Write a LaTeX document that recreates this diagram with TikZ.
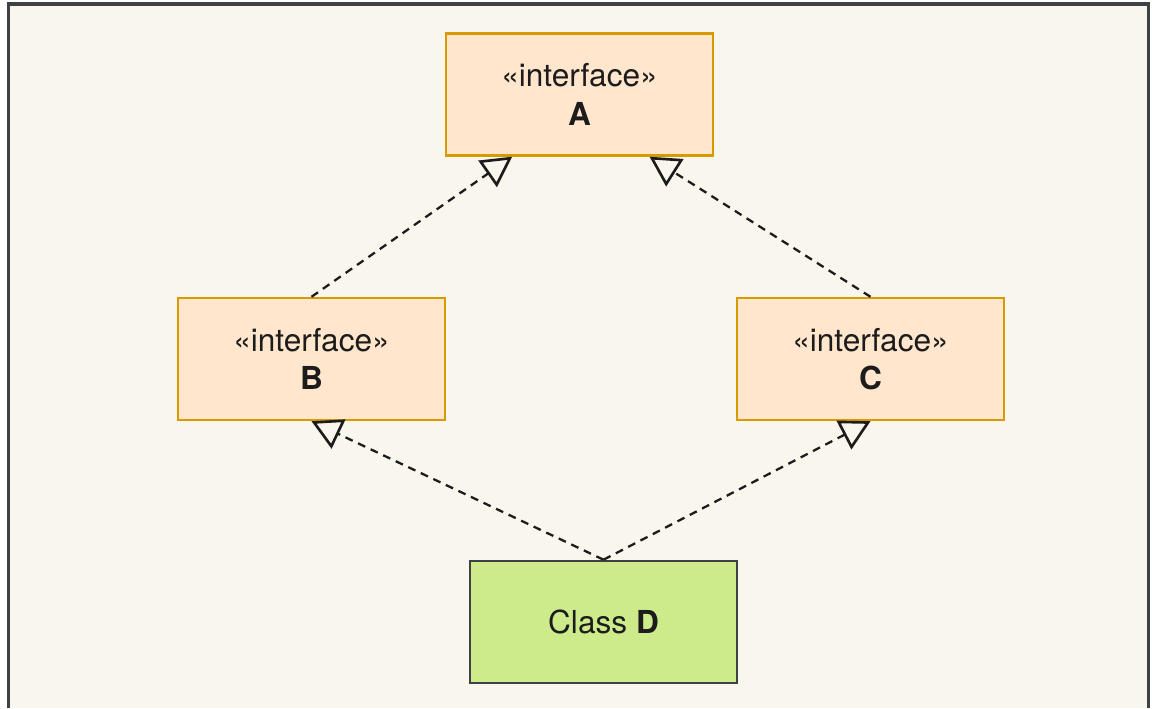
\documentclass[tikz,border=0pt]{standalone}
\usepackage{fontspec}
\setmainfont{TeX Gyre Heros}
\usepackage{tikz}
\usetikzlibrary{positioning,calc,arrows.meta}

\definecolor{canvas}{HTML}{F9F6EE}
\definecolor{ifill}{HTML}{FFE6CC}
\definecolor{iline}{HTML}{D79B00}
\definecolor{cfill}{HTML}{CDEB8B}
\definecolor{cline}{HTML}{3F4245}
\definecolor{ink}{HTML}{1C1C1C}

\begin{document}
\begin{tikzpicture}[x=0.02cm, y=-0.02cm,
    iface/.style={draw=iline, fill=ifill, line width=1.4pt, minimum width=5.34cm,
      minimum height=2.44cm, align=center, text=ink, font=\fontsize{18}{22}\selectfont},
    klass/.style={draw=cline, fill=cfill, line width=1.5pt, minimum width=5.34cm,
      minimum height=2.44cm, align=center, text=ink, font=\fontsize{18}{22}\selectfont},
    realize/.style={ink, line width=1.3pt, dash pattern=on 4.5pt off 3.4pt,
      -{Triangle[open, length=0.6cm, width=0.64cm, line width=1.5pt]}}]
      \useasboundingbox (0,0) rectangle (1152,708);
      \fill[white] (0,0) rectangle (1152,708);
      \fill[canvas] (8.5,4) rectangle (1148.5,708);
      \draw[cline, line width=1.8pt] (8.5,708) -- (8.5,4) -- (1148.5,4) -- (1148.5,708);

      % interfaces
      \node[iface] (A) at (579.5,94.5) {«interface»\\\textbf{A}};
      \node[iface] (B) at (311.5,359) {«interface»\\\textbf{B}};
      \node[iface] (C) at (870.5,359) {«interface»\\\textbf{C}};
      % class
      \node[klass] (D) at (603.5,622) {Class \textbf{D}};

      \coordinate (aleft) at ($(A.south west)!0.25!(A.south east)$);
      \coordinate (aright) at ($(A.south west)!0.76!(A.south east)$);

      \draw[realize] (B.north) -- (aleft);
      \draw[realize] (C.north) -- (aright);
      \draw[realize] (D.north) -- (B.south);
      \draw[realize] (D.north) -- (C.south);
    \end{tikzpicture}
\end{document}
